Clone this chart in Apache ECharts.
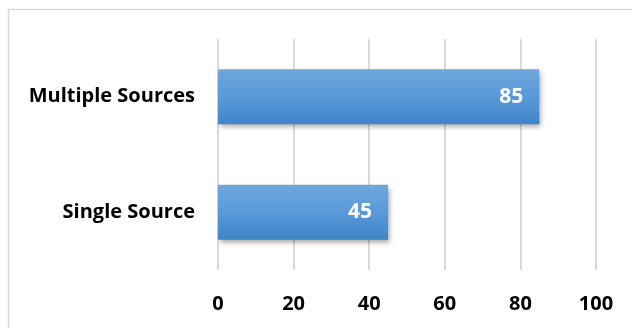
<!DOCTYPE html>
<html><head><meta charset="utf-8">
<script src="https://cdn.jsdelivr.net/npm/echarts@6/dist/echarts.min.js"></script>
<style>html,body{margin:0;padding:0;background:#fff}#c{width:632px;height:328px}</style>
</head><body><div id="c"></div>
<script>
const categories = ['Single Source', 'Multiple Sources'];
const values = [45, 85];
const xTicks = [0, 20, 40, 60, 80, 100];

const chart = echarts.init(document.getElementById('c'), null, {renderer: 'canvas'});
const font = '"Open Sans", "Liberation Sans", sans-serif';
chart.setOption({
  animation: false,
  graphic: [{
    type: 'rect', shape: {x: 8.5, y: 9.5, width: 640, height: 340},
    style: {fill: 'none', stroke: '#d9d9d9', lineWidth: 1.5}, silent: true
  }],
  grid: {left: 218, right: 36, top: 39, bottom: 58},
  xAxis: {
    type: 'value', min: 0, max: 100, interval: 20,
    axisLine: {show: false}, axisTick: {show: false},
    splitLine: {show: true, lineStyle: {color: '#d9d9d9', width: 2}},
    axisLabel: {color: '#000', fontWeight: 'bold', fontSize: 20, fontFamily: font, margin: 24,
      formatter: v => xTicks.includes(v) ? String(v) : ''}
  },
  yAxis: {
    type: 'category', data: categories,
    axisLine: {show: false}, axisTick: {show: false},
    axisLabel: {color: '#000', fontWeight: 'bold', fontSize: 20, fontFamily: font, margin: 23, padding: [5, 0, 0, 0]}
  },
  series: [{
    type: 'bar', data: values, barWidth: 55,
    itemStyle: {
      color: new echarts.graphic.LinearGradient(0, 0, 0, 1, [
        {offset: 0, color: '#6fa6dd'}, {offset: 0.5, color: '#599ad9'}, {offset: 1, color: '#3f85c7'}
      ]),
      shadowColor: 'rgba(0,0,0,0.35)', shadowBlur: 5, shadowOffsetX: 2, shadowOffsetY: 3
    },
    label: {show: true, position: 'insideRight', color: '#fff', fontWeight: 'bold', fontSize: 21, fontFamily: font, distance: 16}
  }]
});
</script></body></html>
